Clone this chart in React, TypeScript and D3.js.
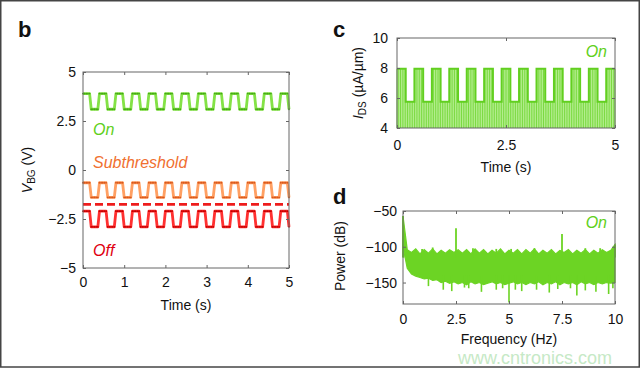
import React, { useEffect, useRef } from "react";
import * as d3 from "d3";

const W = 640;
const H = 370;

// square-wave drive, one entry per 0.2 s half-cycle (1 = high, 0 = low)
const halfCycle = 0.2;
const samplesPerHalf = 5;
const bgStates = [1, 0, 1, 0, 1, 0, 1, 0, 1, 0, 1, 0, 1, 0, 1, 0, 1, 0, 1, 0, 1, 0, 1, 0, 1, 0];
const idsStates = [1, 0, 1, 0, 1, 0, 1, 0, 1, 0, 1, 0, 1, 0, 1, 0, 1, 0, 1, 0, 1, 0, 1, 0, 1];

// [high, low] levels
const onLevels = [3.9, 3.1];
const subLevels = [-0.65, -1.4];
const offLevels = [-2.1, -2.9];
const thresholdLevel = -1.75;
const idsLevels = [7.95, 5.75];

// power spectrum envelope (0.2 Hz steps) and isolated spikes
const specFreq = [
  0, 0.2, 0.4, 0.6, 0.8, 1, 1.2, 1.4, 1.6, 1.8, 2, 2.2, 2.4, 2.6, 2.8, 3, 3.2, 3.4, 3.6, 3.8, 4, 4.2, 4.4, 4.6, 4.8,
  5, 5.2, 5.4, 5.6, 5.8, 6, 6.2, 6.4, 6.6, 6.8, 7, 7.2, 7.4, 7.6, 7.8, 8, 8.2, 8.4, 8.6, 8.8, 9, 9.2, 9.4, 9.6, 9.8, 10,
];
const specUpper = [
  -57, -104, -108, -103, -110, -104, -109, -103, -110, -105, -109, -104, -108, -104, -109, -104, -110, -103, -109,
  -104, -110, -105, -109, -103, -110, -105, -109, -104, -110, -104, -109, -103, -110, -105, -109, -104, -110, -105,
  -108, -104, -110, -105, -109, -104, -110, -105, -109, -104, -108, -105, -97,
];
const specLower = [
  -100, -130, -138, -141, -143, -145, -144, -147, -146, -150, -148, -151, -149, -152, -150, -153, -149, -152, -150,
  -153, -151, -149, -152, -150, -153, -151, -149, -152, -150, -153, -150, -152, -149, -153, -150, -152, -149, -153,
  -150, -152, -150, -153, -149, -152, -150, -153, -150, -152, -150, -151, -150,
];
const spikesUp: [number, number][] = [
  [0, -57], [0.03, -85], [2.5, -74], [7.5, -82], [10, -97], [4.4, -103], [6.2, -102], [1.4, -101], [8.6, -102],
  [0.9, -103], [3.3, -102], [5.1, -103], [9.3, -102],
];
const spikesDown: [number, number][] = [
  [1.2, -155], [1.9, -160], [2.3, -162], [2.9, -157], [3.1, -158], [3.7, -163], [4.4, -160], [4.7, -158],
  [5.0, -178], [5.3, -160], [5.6, -162], [6.3, -160], [6.9, -164], [7.3, -159], [7.9, -158], [8.2, -168],
  [8.6, -161], [9.1, -163], [9.7, -166], [9.9, -158],
];

const bXTicks = [0, 1, 2, 3, 4, 5];
const bYTicks = [-5, -2.5, 0, 2.5, 5];
const cXTicks = [0, 2.5, 5];
const cYTicks = [4, 6, 8, 10];
const dXTicks = [0, 2.5, 5, 7.5, 10];
const dYTicks = [-150, -100, -50];

const FONT = "'Liberation Sans', Arial, Helvetica, sans-serif";
const fmt = (v: number) => (v < 0 ? "\u2212" + Math.abs(v) : String(v));

function squareSamples(states: number[], levels: number[]) {
  const out: [number, number][] = [];
  const n = (states.length - 1) * samplesPerHalf + 1;
  for (let i = 0; i < n; i++) {
    const s = states[Math.floor(i / samplesPerHalf)];
    out.push([(i * halfCycle) / samplesPerHalf, s ? levels[0] : levels[1]]);
  }
  return out;
}

function frame(g, x, y, xt, yt, padX, padY) {
  const [x0, x1] = x.range();
  const [y0, y1] = y.range();
  g.append("rect")
    .attr("x", x0)
    .attr("y", y1)
    .attr("width", x1 - x0)
    .attr("height", y0 - y1)
    .attr("fill", "none")
    .attr("stroke", "#666")
    .attr("stroke-width", 1);
  const style = (a) => {
    a.select(".domain").remove();
    a.selectAll("line").attr("stroke", "#666");
    a.selectAll("text").attr("font-family", FONT).attr("font-size", 14).attr("fill", "#111");
  };
  g.append("g")
    .attr("transform", `translate(0,${y0})`)
    .call(d3.axisBottom(x).tickValues(xt).tickFormat(fmt).tickSizeInner(-3).tickSizeOuter(0).tickPadding(padX))
    .call(style);
  g.append("g")
    .attr("transform", `translate(0,${y1})`)
    .call(d3.axisTop(x).tickValues(xt).tickFormat(() => "").tickSizeInner(-3).tickSizeOuter(0))
    .call(style);
  g.append("g")
    .attr("transform", `translate(${x0},0)`)
    .call(d3.axisLeft(y).tickValues(yt).tickFormat(fmt).tickSizeInner(-3).tickSizeOuter(0).tickPadding(padY))
    .call(style);
  g.append("g")
    .attr("transform", `translate(${x1},0)`)
    .call(d3.axisRight(y).tickValues(yt).tickFormat(() => "").tickSizeInner(-3).tickSizeOuter(0))
    .call(style);
  g.selectAll("g").attr("font-family", FONT).attr("font-size", 14);
}

function label(g, text, x, y, opts: any = {}) {
  return g
    .append("text")
    .attr("x", x)
    .attr("y", y)
    .attr("font-family", FONT)
    .attr("font-size", opts.size || 14)
    .attr("font-style", opts.italic ? "italic" : null)
    .attr("font-weight", opts.bold ? "bold" : null)
    .attr("text-anchor", opts.anchor || "start")
    .attr("fill", opts.fill || "#111")
    .text(text);
}

export default function App() {
  const ref = useRef<SVGSVGElement>(null);

  useEffect(() => {
    const svg = d3.select(ref.current);
    svg.selectAll("*").remove();

    svg.append("rect").attr("width", W).attr("height", H).attr("fill", "#fff");

    // ---------- panel b ----------
    const bx = d3.scaleLinear().domain([0, 5]).range([83, 289]);
    const by = d3.scaleLinear().domain([-5, 5]).range([268, 72]);
    const gb = svg.append("g");
    const line = d3
      .line<[number, number]>()
      .x((d) => bx(d[0]))
      .y((d) => by(d[1]));

    const traces = [
      { levels: onLevels, line: "#84e246", dot: "#45a815" },
      { levels: subLevels, line: "#ffa063", dot: "#d9581c" },
      { levels: offLevels, line: "#ff3030", dot: "#c40000" },
    ];
    gb.append("line")
      .attr("x1", bx(0))
      .attr("x2", bx(5))
      .attr("y1", by(thresholdLevel))
      .attr("y2", by(thresholdLevel))
      .attr("stroke", "#ee1c1c")
      .attr("stroke-width", 2.8)
      .attr("stroke-dasharray", "8,4");
    traces.forEach((t) => {
      const pts = squareSamples(bgStates, t.levels);
      gb.append("path")
        .attr("d", line(pts))
        .attr("fill", "none")
        .attr("stroke", t.line)
        .attr("stroke-width", 2.8)
        .attr("stroke-linejoin", "round");
      gb.append("g")
        .selectAll("circle")
        .data(pts)
        .join("circle")
        .attr("cx", (d) => bx(d[0]))
        .attr("cy", (d) => by(d[1]))
        .attr("r", 0.9)
        .attr("fill", t.dot);
    });
    frame(gb, bx, by, bXTicks, bYTicks, 9, 7);
    label(gb, "On", 93, 135, { italic: true, size: 16, fill: "#5fd020" });
    label(gb, "Subthreshold", 93, 168, { italic: true, size: 16, fill: "#f07030" });
    label(gb, "Off", 93, 256, { italic: true, size: 16, fill: "#e00010" });
    label(gb, "Time (s)", 186, 310, { anchor: "middle" });
    const bYl = gb
      .append("text")
      .attr("transform", "translate(32,170) rotate(-90)")
      .attr("text-anchor", "middle")
      .attr("font-family", FONT)
      .attr("font-size", 14)
      .attr("fill", "#111");
    bYl.append("tspan").attr("font-style", "italic").text("V");
    bYl.append("tspan").attr("font-size", 10).attr("dy", 3).text("BG");
    bYl.append("tspan").attr("dy", -3).text(" (V)");
    label(gb, "b", 18, 37, { bold: true, size: 22 });

    // ---------- panel c ----------
    const cx = d3.scaleLinear().domain([0, 5]).range([397, 615]);
    const cy = d3.scaleLinear().domain([4, 10]).range([128, 38]);
    const gc = svg.append("g");
    const steps: [number, number][] = idsStates.map((s, i) => [i * halfCycle, s ? idsLevels[0] : idsLevels[1]]);
    steps.push([5, steps[steps.length - 1][1]]);
    gc.append("path")
      .attr(
        "d",
        d3
          .area<[number, number]>()
          .curve(d3.curveStepAfter)
          .x((d) => cx(d[0]))
          .y0(cy(4))
          .y1((d) => cy(d[1]))(steps)
      )
      .attr("fill", "#c6f3a6");
    const stems = squareSamples(idsStates.concat([1]), idsLevels).filter((d) => d[0] <= 5);
    gc.append("g")
      .selectAll("line")
      .data(stems)
      .join("line")
      .attr("x1", (d) => cx(d[0]))
      .attr("x2", (d) => cx(d[0]))
      .attr("y1", cy(4))
      .attr("y2", (d) => cy(d[1]))
      .attr("stroke", "#7ada40")
      .attr("stroke-width", 1);
    gc.append("path")
      .attr(
        "d",
        d3
          .line<[number, number]>()
          .curve(d3.curveStepAfter)
          .x((d) => cx(d[0]))
          .y((d) => cy(d[1]))(steps)
      )
      .attr("fill", "none")
      .attr("stroke", "#62cf20")
      .attr("stroke-width", 2);
    frame(gc, cx, cy, cXTicks, cYTicks, 12, 9);
    label(gc, "On", 607, 57, { italic: true, size: 16, fill: "#5fd020", anchor: "end" });
    label(gc, "Time (s)", 506, 172, { anchor: "middle" });
    const cYl = gc
      .append("text")
      .attr("transform", "translate(363,83) rotate(-90)")
      .attr("text-anchor", "middle")
      .attr("font-family", FONT)
      .attr("font-size", 14)
      .attr("fill", "#111");
    cYl.append("tspan").attr("font-style", "italic").text("I");
    cYl.append("tspan").attr("font-size", 10).attr("dy", 3).text("DS");
    cYl.append("tspan").attr("dy", -3).text(" (\u00b5A/\u00b5m)");
    label(gc, "c", 333, 37, { bold: true, size: 22 });

    // ---------- panel d ----------
    const dx = d3.scaleLinear().domain([0, 10]).range([403, 615]);
    const dy = d3.scaleLinear().domain([-180, -50]).range([304, 211]);
    const gd = svg.append("g");
    const band = specFreq.map((f, i) => ({ f, hi: specUpper[i], lo: specLower[i] }));
    gd.append("path")
      .attr(
        "d",
        d3
          .area<{ f: number; hi: number; lo: number }>()
          .x((d) => dx(d.f))
          .y0((d) => dy(d.lo))
          .y1((d) => dy(d.hi))(band)
      )
      .attr("fill", "#6cd424")
      .attr("stroke", "#6cd424")
      .attr("stroke-width", 1.2);
    gd.append("g")
      .selectAll("line")
      .data(spikesUp)
      .join("line")
      .attr("x1", (d) => dx(d[0]))
      .attr("x2", (d) => dx(d[0]))
      .attr("y1", dy(-115))
      .attr("y2", (d) => dy(d[1]))
      .attr("stroke", "#6cd424")
      .attr("stroke-width", 1.8);
    gd.append("g")
      .selectAll("line")
      .data(spikesDown)
      .join("line")
      .attr("x1", (d) => dx(d[0]))
      .attr("x2", (d) => dx(d[0]))
      .attr("y1", dy(-140))
      .attr("y2", (d) => dy(d[1]))
      .attr("stroke", "#6cd424")
      .attr("stroke-width", 1.6);
    frame(gd, dx, dy, dXTicks, dYTicks, 10, 6);
    label(gd, "On", 607, 228, { italic: true, size: 16, fill: "#5fd020", anchor: "end" });
    label(gd, "Frequency (Hz)", 509, 344, { anchor: "middle" });
    gd.append("text")
      .attr("transform", "translate(345,256) rotate(-90)")
      .attr("text-anchor", "middle")
      .attr("font-family", FONT)
      .attr("font-size", 14)
      .attr("fill", "#111")
      .text("Power (dB)");
    label(gd, "d", 333, 204, { bold: true, size: 22 });

    // watermark + outer border
    label(svg, "www.cntronics.com", 458, 364, { size: 18, fill: "#c6e9c6" });
    svg.append("rect")
      .attr("x", 0.75)
      .attr("y", 0.75)
      .attr("width", W - 1.5)
      .attr("height", 367 - 0.75)
      .attr("fill", "none")
      .attr("stroke", "#444")
      .attr("stroke-width", 1.5);
  }, []);

  return (
    <svg
      ref={ref}
      width={W}
      height={H}
      style={{ position: "absolute", left: 0, top: 0, display: "block" }}
    />
  );
}
